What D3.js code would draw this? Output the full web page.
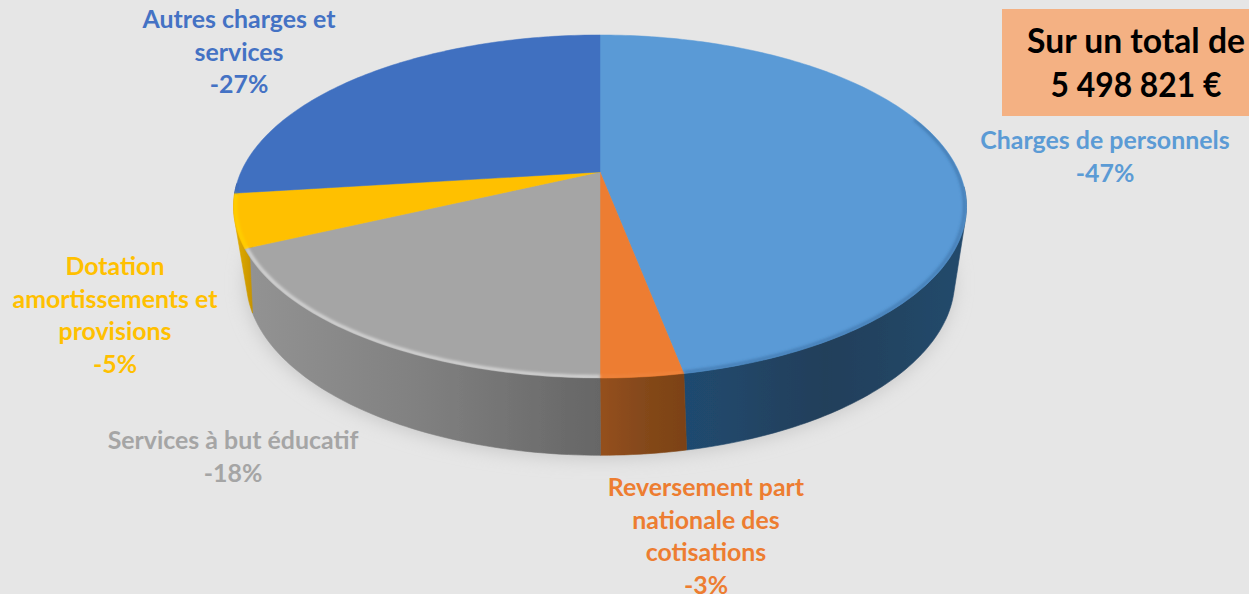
<!DOCTYPE html>
<html>
<head>
<meta charset="utf-8">
<script src="https://cdn.jsdelivr.net/npm/d3@7"></script>
<style>
  html, body { margin: 0; padding: 0; background: #e6e6e6; overflow: hidden; }
  svg { display: block; }
</style>
</head>
<body>
<script>
const WIDTH = 1249;
const HEIGHT = 594;

// data, clockwise from 12 o'clock
const categories = [
  "Charges de personnels",
  "Reversement part nationale des cotisations",
  "Services à but éducatif",
  "Dotation amortissements et provisions",
  "Autres charges et services",
];
const shares = [47, 3, 18, 5, 27];
const labelLines = [
  ["Charges de personnels"],
  ["Reversement part", "nationale des", "cotisations"],
  ["Services à but éducatif"],
  ["Dotation", "amortissements et", "provisions"],
  ["Autres charges et", "services"],
];
const totalLines = ["Sur un total de", "5 498 821 €"];

// styles
const topColors = ["#5a9ad6", "#ed7d31", "#a5a5a5", "#ffc000", "#4170c0"];
const labelColors = ["#5b9bd5", "#ed7d31", "#a5a5a5", "#ffc000", "#4472c4"];
const wallColors = [
  ["#1f4a70", "#233f5a", "#244a6c"],
  ["#95501b", "#84481a", "#7c4213"],
  ["#939393", "#808080", "#666666"],
  ["#e2ad00", "#d6a200", "#c69300"],
  ["#2b4a80", "#2b4a80", "#2b4a80"],
];
const rimColors = ["#2f6296", "#f08a45", "#eeeeee", "#ffe000", "#3a66b3"];
const labelPos = [
  { x: 1105, y: 149 },
  { x: 706, y: 496 },
  { x: 233, y: 449 },
  { x: 115, y: 275 },
  { x: 239, y: 28 },
];
const totalWidths = [218, 171];
const FONT = "Lato, 'Open Sans', sans-serif";

// perspective disc: u to the right, v towards the back
function disc(cx, cy, a, b, k) {
  const sx = d3.scaleLinear().domain([-1, 1]).range([cx - a, cx + a]);
  const sy = d3.scaleLinear().domain([-1, 1]).range([cy + b, cy - b]);
  return (angle, r = 1) => {
    const u = r * Math.sin(angle);
    const v = r * Math.cos(angle);
    const w = 1 + k * v;
    return [sx(u / w), sy(v / w)];
  };
}
const topDisc = disc(600, 172, 359, 164.6, 0.2012);
const bottomDisc = disc(600.5, 235, 342, 163, 0.26);

const line = d3.line();
const rad = (deg) => (deg * Math.PI) / 180;
const arcAngles = (a0, a1) => {
  const n = Math.max(2, Math.ceil(Math.abs(a1 - a0) / rad(1)));
  return d3.range(n + 1).map((i) => a0 + ((a1 - a0) * i) / n);
};

const slices = d3.pie().sort(null)(shares);

const svg = d3
  .select("body")
  .append("svg")
  .attr("width", WIDTH)
  .attr("height", HEIGHT)
  .attr("viewBox", `0 0 ${WIDTH} ${HEIGHT}`);

svg.append("rect").attr("width", WIDTH).attr("height", HEIGHT).attr("fill", "#e6e6e6");

const defs = svg.append("defs");
[[0.6, "soft"], [1.6, "rimBlur"], [9, "shadowBlur"]].forEach(([dev, id]) => {
  defs
    .append("filter")
    .attr("id", id)
    .attr("x", "-10%")
    .attr("y", "-10%")
    .attr("width", "120%")
    .attr("height", "120%")
    .append("feGaussianBlur")
    .attr("stdDeviation", dev);
});

const fullCircle = arcAngles(0, 2 * Math.PI);
defs
  .append("clipPath")
  .attr("id", "topClip")
  .append("path")
  .attr("d", line(fullCircle.map((a) => topDisc(a))) + "Z");

// soft shadow under the disc
svg
  .append("path")
  .attr("d", line(fullCircle.map((a) => bottomDisc(a))) + "Z")
  .attr("transform", "translate(-1,3)")
  .attr("fill", "#c8c8c8")
  .attr("filter", "url(#shadowBlur)");

const pie = svg.append("g").attr("filter", "url(#soft)");

// outer wall, only the front part shows. The hull gives the straight silhouette on both sides
const WALL_START = rad(95);
const WALL_END = rad(266);
slices.forEach((d, i) => {
  const a0 = Math.max(d.startAngle, WALL_START);
  const a1 = Math.min(d.endAngle, WALL_END);
  if (a1 <= a0) return;
  const angles = arcAngles(a0, a1);
  const pts = d3.polygonHull(angles.map((a) => topDisc(a)).concat(angles.map((a) => bottomDisc(a))));
  const xs = pts.map((p) => p[0]);
  const id = `wall${i}`;
  const grad = defs
    .append("linearGradient")
    .attr("id", id)
    .attr("gradientUnits", "userSpaceOnUse")
    .attr("x1", d3.min(xs))
    .attr("x2", d3.max(xs))
    .attr("y1", 0)
    .attr("y2", 0);
  wallColors[i].forEach((c, j, stops) => {
    grad.append("stop").attr("offset", j / (stops.length - 1)).attr("stop-color", c);
  });
  pie
    .append("path")
    .attr("d", line(pts) + "Z")
    .attr("fill", `url(#${id})`)
    .attr("stroke", `url(#${id})`)
    .attr("stroke-width", 0.6);
});

// top faces
slices.forEach((d, i) => {
  const pts = [topDisc(0, 0)].concat(arcAngles(d.startAngle, d.endAngle).map((a) => topDisc(a)));
  pie
    .append("path")
    .attr("d", line(pts) + "Z")
    .attr("fill", topColors[i])
    .attr("stroke", topColors[i])
    .attr("stroke-width", 0.5);
});

// bevel along the front rim, the blue one starts higher up the right edge
const rim = svg.append("g").attr("clip-path", "url(#topClip)");
slices.forEach((d, i) => {
  const a0 = Math.max(d.startAngle, i === 0 ? rad(70) : WALL_START);
  const a1 = Math.min(d.endAngle, WALL_END);
  if (a1 <= a0) return;
  rim
    .append("path")
    .attr("d", line(arcAngles(a0, a1).map((a) => topDisc(a, 0.995))))
    .attr("fill", "none")
    .attr("stroke", rimColors[i])
    .attr("stroke-width", 3)
    .attr("stroke-opacity", i === 2 ? 0.75 : 0.55)
    .attr("filter", "url(#rimBlur)");
});

// slice labels
slices.forEach((d, i) => {
  const lines = labelLines[i].concat(`-${shares[i]}%`);
  const text = svg
    .append("text")
    .attr("text-anchor", "middle")
    .attr("fill", labelColors[i])
    .attr("font-family", FONT)
    .attr("font-weight", 700)
    .attr("font-size", 24.9);
  text
    .selectAll("tspan")
    .data(lines)
    .join("tspan")
    .attr("x", labelPos[i].x)
    .attr("y", (_, j) => labelPos[i].y + j * 32.6)
    .text((s) => s);
});

// total box
svg.append("rect").attr("x", 1002).attr("y", 9).attr("width", 247).attr("height", 107).attr("fill", "#f4b183");
svg
  .selectAll(".total")
  .data(totalLines)
  .join("text")
  .attr("class", "total")
  .attr("text-anchor", "middle")
  .attr("fill", "#000")
  .attr("font-family", FONT)
  .attr("font-weight", 700)
  .attr("font-size", 33.5)
  .attr("x", 1136)
  .attr("y", (_, j) => 53 + j * 44)
  .attr("textLength", (_, j) => totalWidths[j])
  .attr("lengthAdjust", "spacingAndGlyphs")
  .text((s) => s);
</script>
</body>
</html>
